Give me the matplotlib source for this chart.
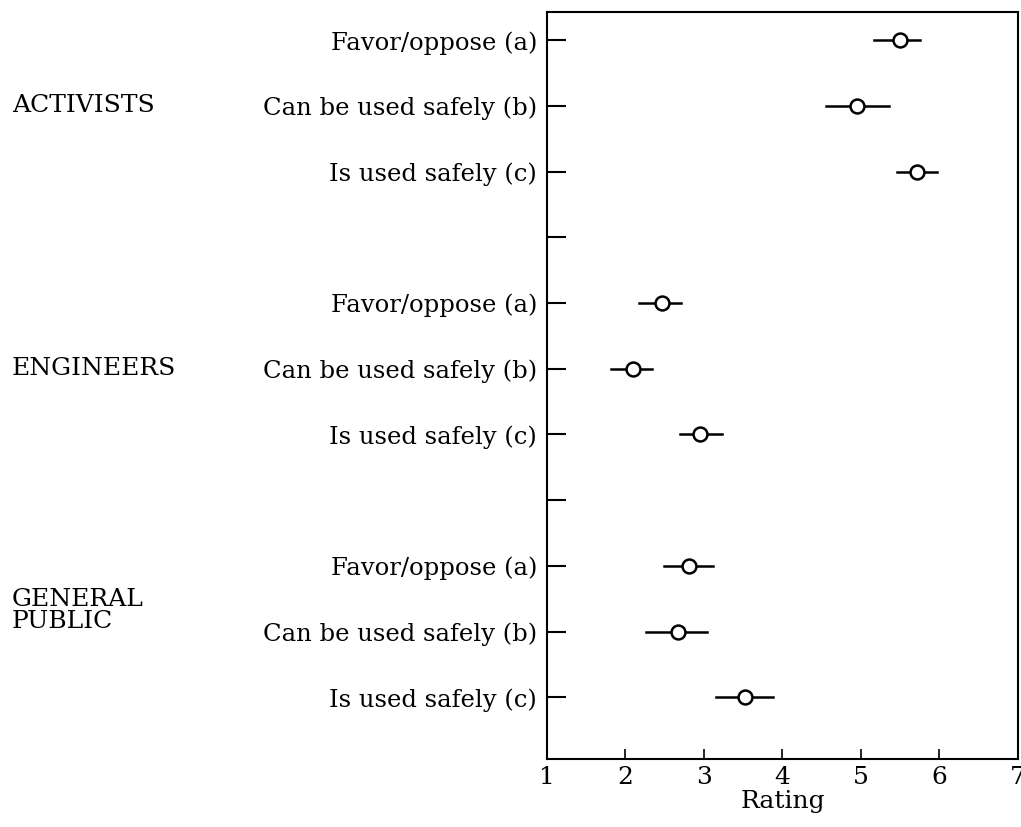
import numpy as np
import matplotlib.pyplot as plt
from matplotlib.transforms import blended_transform_factory

groups = ["ACTIVISTS", "ENGINEERS", "GENERAL\nPUBLIC"]
items = ["Favor/oppose (a)", "Can be used safely (b)", "Is used safely (c)"]

# mean rating and interval ends, per group, order a, b, c
mean_act = [5.50, 4.95, 5.71]
low_act = [5.17, 4.55, 5.46]
high_act = [5.75, 5.36, 5.97]

mean_eng = [2.46, 2.10, 2.95]
low_eng = [2.17, 1.82, 2.69]
high_eng = [2.71, 2.34, 3.23]

mean_pub = [2.81, 2.67, 3.52]
low_pub = [2.49, 2.26, 3.15]
high_pub = [3.11, 3.04, 3.88]

plt.rcParams['font.family'] = 'DejaVu Serif'

fig = plt.figure(figsize=(10.21, 8.27), dpi=100)
ax = fig.add_axes([0.5357, 0.0822, 0.997 - 0.5357, 0.9855 - 0.0822])

means = [mean_act, mean_eng, mean_pub]
lows = [low_act, low_eng, low_pub]
highs = [high_act, high_eng, high_pub]

ticks = []
labels = []
for g in range(3):
	for i in range(3):
		y = g * 4 + i
		ax.plot([lows[g][i], highs[g][i]], [y, y], "-k", lw=1.8, zorder=1)
		ax.plot(means[g][i], y, "o", ms=10, mfc="white", mec="black", mew=1.8, zorder=2)
		ticks.append(y)
		labels.append(items[i])
	if g < 2:
		ticks.append(g * 4 + 3)
		labels.append("")

ax.set_yticks(ticks)
ax.set_yticklabels(labels, fontsize=17.5)
ax.set_ylim(10.94, -0.43)
ax.set_xlim(1, 7)
ax.set_xticks(range(1, 8))
ax.tick_params(axis="y", direction="in", length=14, width=1.5, pad=7)
ax.tick_params(axis="x", direction="in", length=7, width=1.2, labelsize=18, pad=5)
for s in ax.spines.values():
	s.set_linewidth(1.5)
ax.set_xlabel("Rating", fontsize=18, labelpad=1)

tr = blended_transform_factory(fig.transFigure, ax.transData)
ax.text(12 / 1021, 1, groups[0], transform=tr, fontsize=18, va="center", ha="left")
ax.text(12 / 1021, 5, groups[1], transform=tr, fontsize=18, va="center", ha="left")
ax.text(12 / 1021, 8.68, groups[2], transform=tr, fontsize=18, va="center", ha="left", linespacing=0.9)

fig.savefig("out.png", dpi=100)
